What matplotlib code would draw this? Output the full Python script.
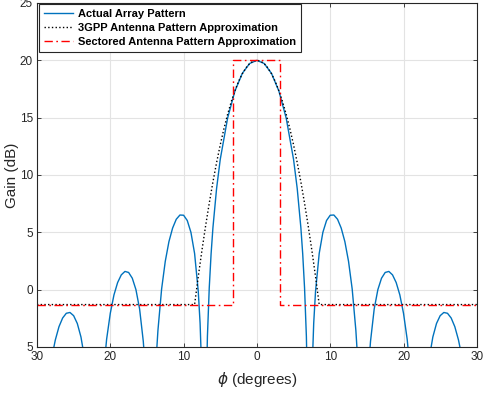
import numpy as np
import matplotlib
matplotlib.use('Agg')
import matplotlib.pyplot as plt

# angles (degrees) and gain (dB)
phi_actual = [-30, -29, -28, -27.5, -27, -26.5, -26, -25.5, -25, -24.5, -24, -23.5, -23, -22,
              -21, -20.5, -20, -19.5, -19, -18.5, -18, -17.5, -17, -16.5, -16, -15.5, -15.25, -15, -14.5,
              -13.7, -13.5, -13, -12.5, -12, -11.5, -11, -10.5, -10, -9.5, -9, -8.5, -8, -7.75, -7.5, -7.2,
              -7, -6.75, -6.5, -6.25, -6, -5.5, -5, -4, -3, -2, -1, 0,
              1, 2, 3, 4, 5, 5.5, 6, 6.25, 6.5, 6.75, 7,
              7.2, 7.5, 7.75, 8, 8.5, 9, 9.5, 10, 10.5, 11, 11.5, 12, 12.5, 13, 13.5, 13.7,
              14.5, 15, 15.25, 15.5, 16, 16.5, 17, 17.5, 18, 18.5, 19, 19.5, 20, 20.5, 21,
              22, 23, 23.5, 24, 24.5, 25, 25.5, 26, 26.5, 27, 27.5, 28, 29, 30]
gain_actual = [-30, -12, -5.97, -4.39, -3.23, -2.47, -2.06, -1.99, -2.27, -2.95, -4.13, -6.02, -9.08, -30,
               -7.7, -4.32, -2.06, -0.46, 0.62, 1.29, 1.59, 1.50, 1.00, 0.00, -1.69, -4.50, -6.67, -9.82, -30,
               -5.59, -3.55, 0.05, 2.47, 4.19, 5.37, 6.14, 6.51, 6.49, 6.03, 5.00, 3.16, -0.14, -2.92, -7.59, -30,
               -11.9, -4.08, 0.16, 3.11, 5.39, 8.82, 11.36, 14.95, 17.32, 18.85, 19.72, 20.0,
               19.72, 18.85, 17.32, 14.95, 11.36, 8.82, 5.39, 3.11, 0.16, -4.08, -11.9,
               -30, -7.59, -2.92, -0.14, 3.16, 5.00, 6.03, 6.49, 6.51, 6.14, 5.37, 4.19, 2.47, 0.05, -3.55, -5.59,
               -30, -9.82, -6.67, -4.50, -1.69, 0.00, 1.00, 1.50, 1.59, 1.29, 0.62, -0.46, -2.06, -4.32, -7.7,
               -30, -9.08, -6.02, -4.13, -2.95, -2.27, -1.99, -2.06, -2.47, -3.23, -4.39, -5.97, -12, -30]

phi_3gpp = [-30, -8.5, -8, -7.5, -7, -6.5, -6, -5.5, -5, -4.5, -4, -3.5, -3, -2.5, -2, -1.5, -1, -0.5, 0,
            0.5, 1, 1.5, 2, 2.5, 3, 3.5, 4, 4.5, 5, 5.5, 6, 6.5, 7, 7.5, 8, 8.5, 30]
gain_3gpp = [-1.3, -1.3, 1.13, 3.42, 5.55, 7.54, 9.39, 11.08, 12.63, 14.03, 15.28, 16.39, 17.35, 18.16,
             18.82, 19.34, 19.71, 19.93, 20.0,
             19.93, 19.71, 19.34, 18.82, 18.16, 17.35, 16.39, 15.28, 14.03, 12.63, 11.08, 9.39, 7.54, 5.55,
             3.42, 1.13, -1.3, -1.3]

phi_sector = [-30, -3.2, -3.2, 3.2, 3.2, 30]
gain_sector = [-1.3, -1.3, 20, 20, -1.3, -1.3]

xticks = [-30, -20, -10, 0, 10, 20, 30]
xtick_labels = ['30', '20', '10', '0', '10', '20', '30']
yticks = [-5, 0, 5, 10, 15, 20, 25]
ytick_labels = ['5', '0', '5', '10', '15', '20', '25']

plt.rcParams['font.family'] = ['Liberation Sans', 'DejaVu Sans']
grey = '#262626'

fig = plt.figure(figsize=(4.86, 3.94), dpi=100)
ax = fig.add_axes([0.0761, 0.1193, 0.905, 0.8731])

ax.plot(phi_actual, gain_actual, color='#0072BD', lw=1.0, label='Actual Array Pattern')
ax.plot(phi_3gpp, gain_3gpp, color='black', lw=1.0, ls=':', label='3GPP Antenna Pattern Approximation')
ax.plot(phi_sector, gain_sector, color='#ff0000', lw=1.0, ls='-.', dashes=(6, 2.5, 1.2, 2.5),
        label='Sectored Antenna Pattern Approximation')

ax.set_xlim(-30, 30)
ax.set_ylim(-5, 25)
ax.set_xticks(xticks)
ax.set_xticklabels(xtick_labels)
ax.set_yticks(yticks)
ax.set_yticklabels(ytick_labels)
ax.grid(True, color='#e3e3e3', lw=0.8)
ax.set_axisbelow(True)
ax.tick_params(direction='in', top=True, right=True, length=3, width=0.6,
               colors=grey, labelsize=8.5, pad=3)
for s in ax.spines.values():
    s.set_color(grey)
    s.set_linewidth(0.8)

ax.set_xlabel(r'$\phi$ (degrees)', fontsize=11, color=grey, labelpad=5)
ax.set_ylabel('Gain (dB)', fontsize=11, color=grey)
# sits just left of the tick labels
ax.yaxis.set_label_coords(-0.042, 0.5)

leg = ax.legend(loc='upper left', bbox_to_anchor=(0.005, 0.998), fancybox=False,
                prop={'weight': 'bold', 'size': 8}, handlelength=2.6, handletextpad=0.45,
                borderpad=0.45, labelspacing=0.38, borderaxespad=0.0, framealpha=1)
leg.get_frame().set_edgecolor(grey)
leg.get_frame().set_linewidth(0.8)

fig.savefig('out.png', dpi=100)
